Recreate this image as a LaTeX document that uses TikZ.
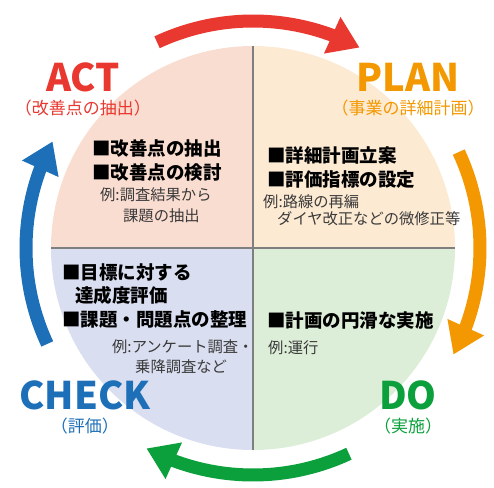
\documentclass[tikz,border=0pt]{standalone}
\usepackage{fontspec}
\setmainfont{Noto Sans CJK JP}
\usetikzlibrary{arrows.meta,bending,positioning}
\definecolor{actred}{HTML}{E8382F}
\definecolor{planorange}{HTML}{F39800}
\definecolor{checkblue}{HTML}{1D6FB8}
\definecolor{dogreen}{HTML}{0BA03C}
\definecolor{actfill}{HTML}{FADDD1}
\definecolor{planfill}{HTML}{FDEAD3}
\definecolor{checkfill}{HTML}{D9DEF0}
\definecolor{dofill}{HTML}{DDEED8}
\definecolor{divgray}{HTML}{7F7F7F}
\definecolor{notegray}{HTML}{3A3A3A}

\begin{document}
\begin{tikzpicture}[
  x=1pt,y=1pt,
  cycle/.style={line width=13pt,-{Triangle[width=38pt,length=30pt]}},
  phase/.style={font=\fontsize{38}{40}\selectfont\bfseries,inner sep=0pt},
  phasesub/.style={font=\fontsize{17}{18}\selectfont,inner sep=0pt},
  task/.style={anchor=west,inner sep=0pt,font=\fontsize{18.5}{20}\selectfont\bfseries},
  note/.style={anchor=west,inner sep=0pt,text=notegray,font=\fontsize{15.3}{16}\selectfont}
]
  \useasboundingbox (-253,-239) rectangle (241,248);
  % quadrants
  \fill[planfill] (0,0) -- (0:202) arc[start angle=0,end angle=90,radius=202] -- cycle;
  \fill[actfill] (0,0) -- (90:202) arc[start angle=90,end angle=180,radius=202] -- cycle;
  \fill[checkfill] (0,0) -- (180:202) arc[start angle=180,end angle=270,radius=202] -- cycle;
  \fill[dofill] (0,0) -- (270:202) arc[start angle=270,end angle=360,radius=202] -- cycle;
  \draw[divgray,line width=1.8pt] (-202,0) -- (202,0);
  \draw[divgray,line width=1.8pt] (0,202) -- (0,-202);

  % cycle arrows
  \draw[cycle,actred] (115:227) arc[start angle=115,end angle=62,radius=227];
  \draw[cycle,planorange] (25:227) arc[start angle=25,end angle=-28,radius=227];
  \draw[cycle,dogreen] (-65:227) arc[start angle=-65,end angle=-118,radius=227];
  \draw[cycle,checkblue] (-155:227) arc[start angle=-155,end angle=-208,radius=227];

  % phase labels
  \node[phase,text=actred] (act) at (-170,171) {ACT};
  \node[phasesub,text=actred,below=8pt of act] (actsub) {（改善点の抽出）};
  \node[phase,text=planorange] (plan) at (155,171) {PLAN};
  \node[phasesub,text=planorange,below=8pt of plan] (plansub) {（事業の詳細計画）};
  \node[phase,text=checkblue] (check) at (-168,-147) {CHECK};
  \node[phasesub,text=checkblue,below=8pt of check] (checksub) {（評価）};
  \node[phase,text=dogreen] (do) at (155,-147) {DO};
  \node[phasesub,text=dogreen,below=8pt of do] (dosub) {（実施）};

  % ACT
  \node[task] (act1) at (-161,100) {■改善点の抽出};
  \node[task] (act2) at (-161,76) {■改善点の検討};
  \node[note] (actex1) at (-153,53) {例:調査結果から};
  \node[note] (actex2) at (-130,32) {課題の抽出};
  % PLAN
  \node[task] (plan1) at (14,93) {■詳細計画立案};
  \node[task] (plan2) at (14,68) {■評価指標の設定};
  \node[note] (planex1) at (10,46) {例:路線の再編};
  \node[note] (planex2) at (24,29) {ダイヤ改正などの微修正等};
  % CHECK
  \node[task] (check1) at (-191,-24) {■目標に対する};
  \node[task] (check2) at (-178,-47) {達成度評価};
  \node[task] (check3) at (-191,-72) {■課題・問題点の整理};
  \node[note] (checkex1) at (-141,-99) {例:アンケート調査・};
  \node[note] (checkex2) at (-118,-119) {乗降調査など};
  % DO
  \node[task] (do1) at (14,-72) {■計画の円滑な実施};
  \node[note] (doex1) at (15,-100) {例:運行};
\end{tikzpicture}
\end{document}
